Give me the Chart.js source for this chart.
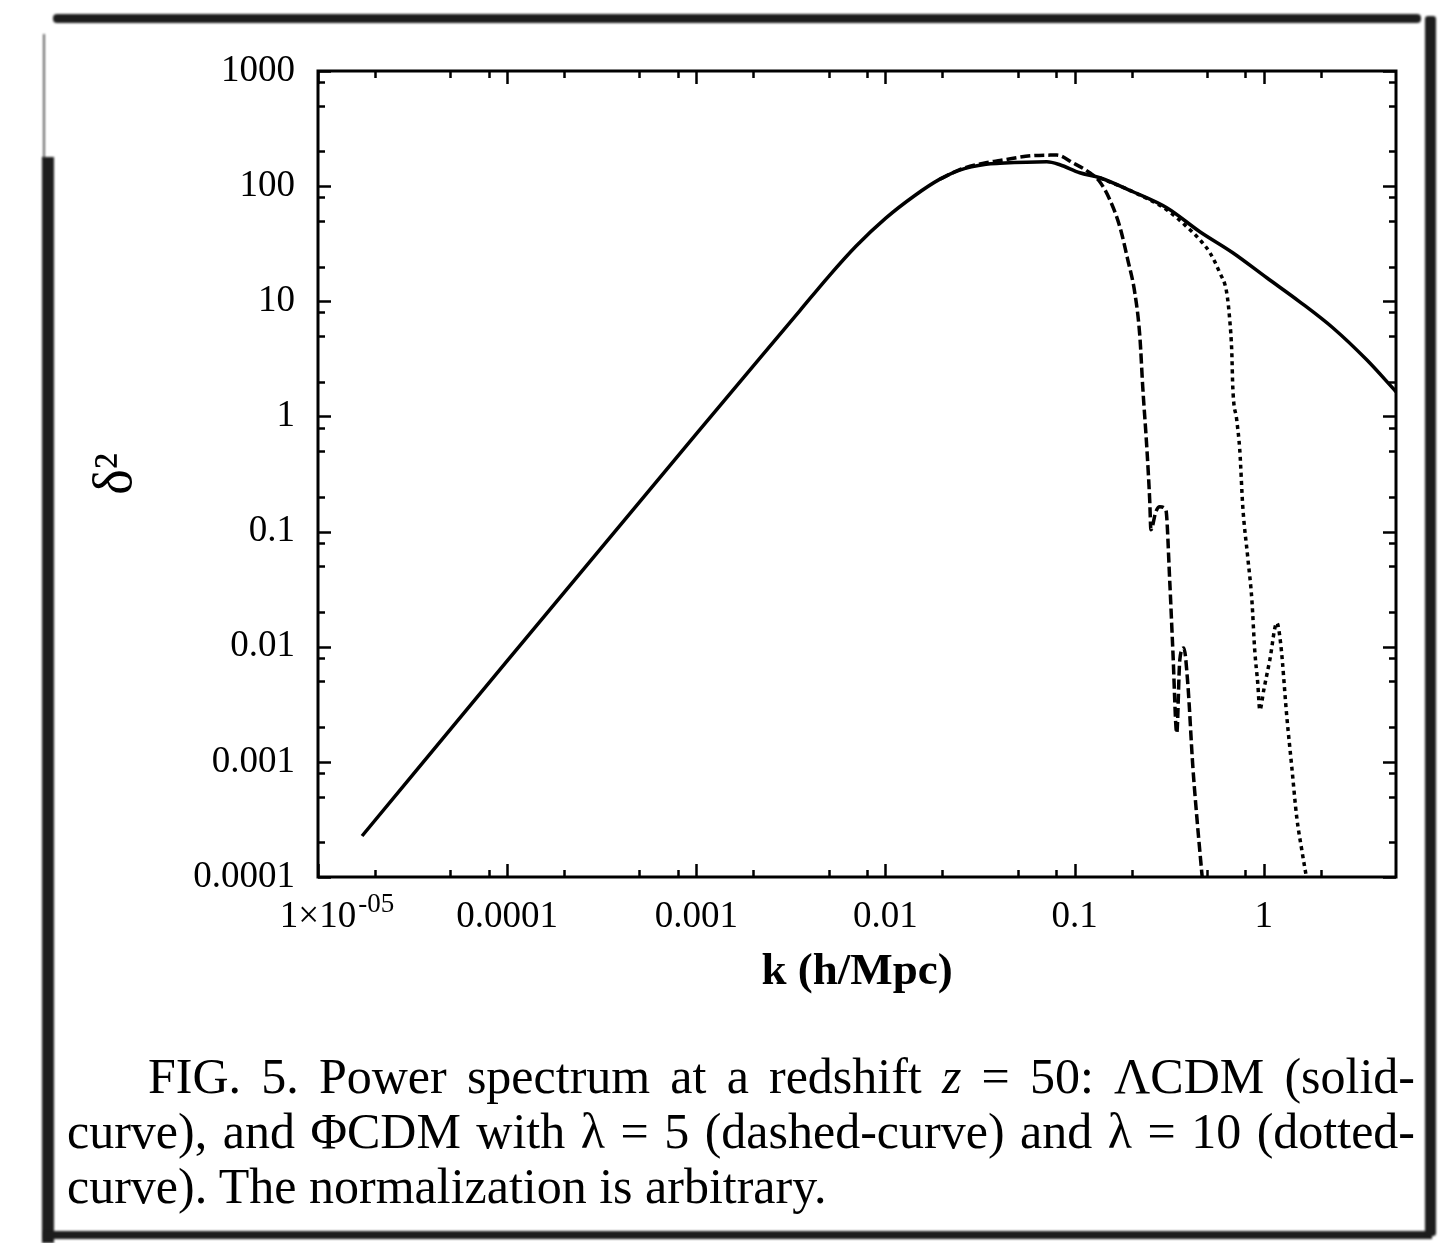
<!DOCTYPE html>
<html>
<head>
<meta charset="utf-8">
<script src="https://cdn.jsdelivr.net/npm/chart.js@4.4.1/dist/chart.umd.min.js"></script>
<style>
  html, body { margin: 0; padding: 0; background: #fff; }
  body { width: 1450px; height: 1243px; position: relative; overflow: hidden; }
  #plot { position: absolute; left: 0; top: 0; }
  .edge { position: absolute; background: #1d1d1d; filter: blur(0.8px); }
  #caption {
    position: absolute; left: 67px; top: 1049px; width: 1348px;
    font-family: "Liberation Serif", "Times New Roman", serif;
    font-size: 50px; line-height: 55px; color: #000;
  }
  #caption .just { text-align: justify; text-align-last: justify; }
  #caption .first { text-indent: 81px; }
</style>
</head>
<body>
<canvas id="plot" width="1450" height="1010"></canvas>

<div class="edge" style="left:53px; top:14px; width:1368px; height:9px; border-radius:4px;"></div>
<div class="edge" style="left:43px; top:34px; width:2px; height:125px; background:#666;"></div>
<div class="edge" style="left:42px; top:157px; width:12px; height:1086px;"></div>
<div class="edge" style="left:44px; top:1231px; width:1388px; height:8px;"></div>
<div class="edge" style="left:1425px; top:16px; width:11px; height:1220px; border-radius:3px;"></div>

<div id="caption">
  <div class="just first">FIG. 5. Power spectrum at a redshift <i>z</i> = 50: ΛCDM (solid-</div>
  <div class="just">curve), and ΦCDM with λ = 5 (dashed-curve) and λ = 10 (dotted-</div>
  <div>curve). The normalization is arbitrary.</div>
</div>

<script>
// wavenumber k (h/Mpc) and delta^2, arbitrary normalization
const kLCDM = [1.709e-5, 1.0e-4, 1.0e-3, 3.53e-3, 5.0e-3, 7.0e-3, 0.01, 0.0143, 0.0194,
  0.0247, 0.034, 0.0403, 0.0713, 0.0836, 0.1064, 0.1358, 0.2033, 0.3069, 0.4592,
  0.6855, 1.037, 1.549, 2.316, 3.50, 5.0];
const dLCDM = [2.27e-4, 7.54e-3, 0.706, 8.3, 16.4, 30.2, 52.5, 83.0, 115.0,
  138.0, 155.0, 158.0, 162.9, 153.5, 130.7, 118.3, 89.4, 64.9, 40.2,
  26.4, 16.0, 9.90, 5.89, 3.10, 1.64];

// lambda = 5
const kPhi5 = [0.0194, 0.0247, 0.034, 0.0403, 0.0601, 0.0805, 0.0977, 0.1202, 0.1358, 0.1535,
  0.1734, 0.1910, 0.2080, 0.2213, 0.2291, 0.2412, 0.2494, 0.2531, 0.2685, 0.2818,
  0.3034, 0.3186, 0.3305, 0.3467, 0.3597, 0.3776, 0.3963, 0.4217, 0.4426, 0.4766];
const dPhi5 = [115.0, 139.0, 160.0, 167.0, 184.0, 186.0, 159.7, 130.7, 109.2, 76.2,
  44.4, 22.9, 11.86, 4.92, 1.81, 0.513, 0.188, 0.1035, 0.148, 0.164,
  0.155, 0.0358, 0.00937, 0.00178, 0.00767, 0.00977, 0.00484, 0.000904, 0.000332, 8.5e-5];

// lambda = 10
const kPhi10 = [0.1358, 0.2033, 0.3069, 0.3917, 0.4592, 0.5190, 0.5848, 0.6368, 0.6607, 0.6776,
  0.6855, 0.7194, 0.7464, 0.7745, 0.8222, 0.8650, 0.8954, 0.9290, 0.9529, 1.0,
  1.076, 1.172, 1.230, 1.324, 1.406, 1.493, 1.588, 1.709];
const dPhi10 = [118.3, 89.4, 62.4, 44.4, 34.2, 26.4, 17.7, 11.86, 6.90, 3.57,
  1.81, 0.933, 0.513, 0.164, 0.0603, 0.0255, 0.00937, 0.00484, 0.00282, 0.00422,
  0.00767, 0.0161, 0.0104, 0.00245, 0.000904, 0.000332, 0.000172, 8.5e-5];

const xDecades = [1e-5, 1e-4, 1e-3, 1e-2, 1e-1, 1];
const xLabels = ["1×10", "0.0001", "0.001", "0.01", "0.1", "1"];
const yDecades = [1e-4, 1e-3, 1e-2, 1e-1, 1, 10, 100, 1000];
const yLabels = ["0.0001", "0.001", "0.01", "0.1", "1", "10", "100", "1000"];
const minorSteps = [2, 5, 8];

const serif = '"Liberation Serif", "Times New Roman", serif';
Chart.defaults.color = "#000";
Chart.defaults.font.family = serif;

function pairs(xs, ys) {
  return xs.map((x, i) => ({ x: x, y: ys[i] }));
}

function tickList(decades, max) {
  let list = [];
  decades.forEach((d) => {
    list.push({ value: d, major: true });
    minorSteps.forEach((m) => {
      if (d * m < max * 0.999) list.push({ value: d * m, major: false });
    });
  });
  return list;
}

function labelFor(decades, labels, v) {
  let i = decades.findIndex((d) => Math.abs(Math.log10(v) - Math.log10(d)) < 1e-6);
  return i >= 0 ? labels[i] : "";
}

// box round the plot, inward ticks on all four sides, exponent on the first k label
const frameTicks = {
  id: "frameTicks",
  afterDraw(chart) {
    const { ctx, chartArea: a, scales } = chart;
    const x = scales.x, y = scales.y;
    ctx.save();
    ctx.strokeStyle = "#000";
    ctx.lineWidth = 2.5;
    ctx.beginPath();
    x.ticks.forEach((t) => {
      const px = Math.round(x.getPixelForValue(t.value)) + 0.5;
      const len = t.major ? 13 : 7;
      ctx.moveTo(px, a.bottom);
      ctx.lineTo(px, a.bottom - len);
      ctx.moveTo(px, a.top);
      ctx.lineTo(px, a.top + len);
    });
    y.ticks.forEach((t) => {
      const py = Math.round(y.getPixelForValue(t.value)) + 0.5;
      const len = t.major ? 13 : 7;
      ctx.moveTo(a.left, py);
      ctx.lineTo(a.left + len, py);
      ctx.moveTo(a.right, py);
      ctx.lineTo(a.right - len, py);
    });
    ctx.stroke();
    ctx.lineWidth = 3;
    ctx.strokeRect(a.left, a.top, a.right - a.left, a.bottom - a.top);

    ctx.fillStyle = "#000";
    ctx.font = "37px " + serif;
    const half = ctx.measureText(xLabels[0]).width / 2;
    ctx.font = "27px " + serif;
    ctx.textAlign = "left";
    ctx.textBaseline = "alphabetic";
    ctx.fillText("-05", x.getPixelForValue(xDecades[0]) + half + 2, 912);
    ctx.restore();
  },
};

const config = {
  type: "line",
  data: {
    datasets: [
      {
        label: "ΛCDM",
        data: pairs(kLCDM, dLCDM),
        borderColor: "#000",
        borderWidth: 3.5,
        pointRadius: 0,
        cubicInterpolationMode: "monotone",
      },
      {
        label: "ΦCDM λ = 5",
        data: pairs(kPhi5, dPhi5),
        borderColor: "#000",
        borderWidth: 3.5,
        borderDash: [10, 4],
        pointRadius: 0,
        cubicInterpolationMode: "monotone",
      },
      {
        label: "ΦCDM λ = 10",
        data: pairs(kPhi10, dPhi10),
        borderColor: "#000",
        borderWidth: 3.5,
        borderDash: [4, 4],
        pointRadius: 0,
        cubicInterpolationMode: "monotone",
      },
    ],
  },
  options: {
    responsive: false,
    devicePixelRatio: 1,
    animation: false,
    layout: { padding: { top: 71, right: 54, left: 0, bottom: 0 } },
    plugins: { legend: { display: false }, tooltip: { enabled: false } },
    scales: {
      x: {
        type: "logarithmic",
        min: 1e-5,
        max: 5,
        grid: { display: false, drawTicks: false },
        border: { display: false },
        afterBuildTicks: (scale) => {
          scale.ticks = tickList(xDecades, 5);
        },
        afterFit: (scale) => {
          scale.height = 133;
        },
        ticks: {
          autoSkip: false,
          maxRotation: 0,
          minRotation: 0,
          padding: 18,
          font: { size: 37 },
          callback: (v) => labelFor(xDecades, xLabels, v),
        },
        title: {
          display: true,
          text: "k (h/Mpc)",
          font: { size: 45, weight: "bold" },
          padding: { top: 0, bottom: 11 },
        },
      },
      y: {
        type: "logarithmic",
        min: 1e-4,
        max: 1000,
        grid: { display: false, drawTicks: false },
        border: { display: false },
        afterBuildTicks: (scale) => {
          scale.ticks = tickList(yDecades, 1000);
        },
        afterFit: (scale) => {
          scale.width = 318;
        },
        ticks: {
          autoSkip: false,
          padding: 23,
          font: { size: 37 },
          callback: (v) => labelFor(yDecades, yLabels, v),
        },
        title: {
          display: true,
          text: "δ²",
          font: { size: 54 },
          padding: { top: 84, bottom: 0 },
        },
      },
    },
  },
  plugins: [frameTicks],
};

new Chart(document.getElementById("plot"), config);
</script>
</body>
</html>
